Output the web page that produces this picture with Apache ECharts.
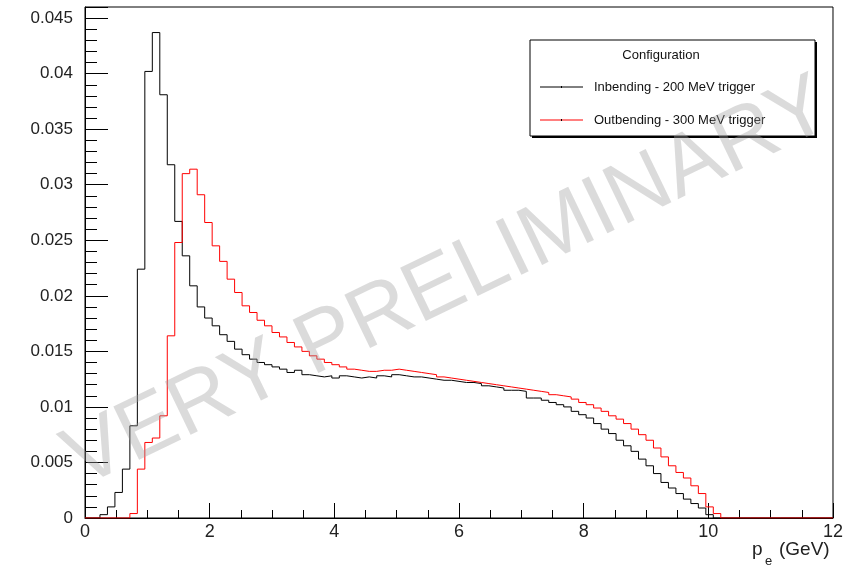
<!DOCTYPE html>
<html>
<head>
<meta charset="utf-8">
<script src="https://cdn.jsdelivr.net/npm/echarts@6/dist/echarts.min.js"></script>
<style>
  html, body { margin: 0; padding: 0; background: #fff; }
  #chart { width: 846px; height: 567px; }
</style>
</head>
<body>
<div id="chart"></div>
<script>
// histogram: 100 bins from 0 to 12 GeV
const binWidth = 0.12;
const xTicks = [0, 2, 4, 6, 8, 10, 12];
const yTicks = [0, 0.005, 0.01, 0.015, 0.02, 0.025, 0.03, 0.035, 0.04, 0.045];

const seriesNames = ["Inbending - 200 MeV trigger", "Outbending - 300 MeV trigger"];

const inbending = [
  0, 0, 0.0003, 0.0010, 0.0023, 0.0044, 0.0083, 0.0224, 0.0402, 0.0437,
  0.0381, 0.0318, 0.0267, 0.0236, 0.0209, 0.0190, 0.0180, 0.0173, 0.0165, 0.0159,
  0.0152, 0.0147, 0.0143, 0.0140, 0.0138, 0.0136, 0.0134, 0.0131, 0.0133, 0.0129,
  0.0128, 0.0127, 0.0128, 0.0126, 0.0128, 0.0127, 0.0126, 0.0127, 0.0126, 0.0128,
  0.0127, 0.0129, 0.0128, 0.0127, 0.0127, 0.0126, 0.0125, 0.0124, 0.0124, 0.0123,
  0.0122, 0.0122, 0.0121, 0.0119, 0.0118, 0.0117, 0.0115, 0.0115, 0.0114, 0.0108,
  0.0108, 0.0106, 0.0104, 0.0102, 0.0100, 0.0096, 0.0093, 0.0090, 0.0085, 0.0080,
  0.0076, 0.0070, 0.0065, 0.0060, 0.0053, 0.0047, 0.0040, 0.0032, 0.0027, 0.0022,
  0.0017, 0.0013, 0.0009, 0.0003, 0, 0, 0, 0, 0, 0,
  0, 0, 0, 0, 0, 0, 0, 0, 0, 0
];

const outbending = [
  0, 0, 0, 0, 0, 0, 0.0004, 0.0044, 0.0068, 0.0072,
  0.0092, 0.0164, 0.0248, 0.0310, 0.0314, 0.0291, 0.0266, 0.0245, 0.0231, 0.0215,
  0.0203, 0.0191, 0.0185, 0.0178, 0.0173, 0.0167, 0.0163, 0.0158, 0.0154, 0.0150,
  0.0146, 0.0143, 0.0140, 0.0138, 0.0136, 0.0134, 0.0133, 0.0132, 0.0132, 0.0133,
  0.0133, 0.0134, 0.0133, 0.0132, 0.0131, 0.0130, 0.0129, 0.0127, 0.0126, 0.0125,
  0.0124, 0.0123, 0.0122, 0.0121, 0.0120, 0.0119, 0.0118, 0.0117, 0.0116, 0.0115,
  0.0114, 0.0113, 0.0111, 0.0110, 0.0109, 0.0107, 0.0104, 0.0102, 0.0099, 0.0096,
  0.0092, 0.0089, 0.0085, 0.0080, 0.0075, 0.0070, 0.0063, 0.0055, 0.0047, 0.0041,
  0.0036, 0.0029, 0.0022, 0.0010, 0.0004, 0, 0, 0, 0, 0,
  0, 0, 0, 0, 0, 0, 0, 0, 0, 0
];

const font = "'Liberation Sans', Arial, Helvetica, sans-serif";

// step points at bin left edges, plus the closing right edge
function toSteps(values) {
  const pts = values.map((v, i) => [i * binWidth, v]);
  pts.push([values.length * binWidth, values[values.length - 1]]);
  return pts;
}

const chart = echarts.init(document.getElementById("chart"), null, { renderer: "canvas" });

const option = {
  animation: false,
  backgroundColor: "#fff",
  grid: {
    left: 85, right: 12, top: 7, bottom: 49,
    show: true, borderColor: "#000", borderWidth: 1, backgroundColor: "transparent"
  },
  xAxis: {
    type: "value",
    min: xTicks[0], max: xTicks[xTicks.length - 1], interval: 2,
    axisLine: { show: true, lineStyle: { color: "#000", width: 1 } },
    axisTick: { show: true, inside: true, length: 15, lineStyle: { color: "#000" } },
    minorTick: { show: true, splitNumber: 4, length: 8, lineStyle: { color: "#000" } },
    splitLine: { show: false },
    axisLabel: { color: "#222", fontSize: 18, fontFamily: font, margin: 5 }
  },
  yAxis: {
    type: "value",
    min: 0, max: 0.046, interval: 0.005,
    axisLine: { show: true, lineStyle: { color: "#000", width: 1 } },
    axisTick: { show: true, inside: true, length: 23, lineStyle: { color: "#000" } },
    minorTick: { show: true, splitNumber: 5, length: 12, lineStyle: { color: "#000" } },
    splitLine: { show: false },
    axisLabel: {
      color: "#222", fontSize: 17, fontFamily: font, margin: 12, showMaxLabel: false,
      formatter: v => yTicks.some(t => Math.abs(t - v) < 1e-9) ? String(+v.toFixed(3)) : ""
    }
  },
  series: [
    {
      name: seriesNames[0], type: "line", step: "end", data: toSteps(inbending),
      showSymbol: false, silent: true, z: 3,
      lineStyle: { color: "#000", width: 1 }
    },
    {
      name: seriesNames[1], type: "line", step: "end", data: toSteps(outbending),
      showSymbol: false, silent: true, z: 4,
      lineStyle: { color: "#ff0000", width: 1 }
    }
  ],
  graphic: [
    // legend box with shadow
    { type: "rect", shape: { x: 532, y: 42, width: 285, height: 96 }, style: { fill: "#000" }, z: 10 },
    { type: "rect", shape: { x: 530, y: 40, width: 285, height: 96 }, style: { fill: "#fff", stroke: "#000", lineWidth: 1 }, z: 11 },
    { type: "text", x: 661, y: 55, z: 12,
      style: { text: "Configuration", font: "13px " + font, fill: "#111", textAlign: "center", textVerticalAlign: "middle" } },
    { type: "line", shape: { x1: 540, y1: 87, x2: 583, y2: 87 }, style: { stroke: "#000", lineWidth: 1 }, z: 12 },
    { type: "line", shape: { x1: 561.5, y1: 86, x2: 561.5, y2: 88 }, style: { stroke: "#000", lineWidth: 1 }, z: 12 },
    { type: "text", x: 594, y: 87, z: 12,
      style: { text: seriesNames[0], font: "13px " + font, fill: "#111", textVerticalAlign: "middle" } },
    { type: "line", shape: { x1: 540, y1: 120, x2: 583, y2: 120 }, style: { stroke: "#ff0000", lineWidth: 1 }, z: 12 },
    { type: "line", shape: { x1: 561.5, y1: 119, x2: 561.5, y2: 121 }, style: { stroke: "#000", lineWidth: 1 }, z: 12 },
    { type: "text", x: 594, y: 120, z: 12,
      style: { text: seriesNames[1], font: "13px " + font, fill: "#111", textVerticalAlign: "middle" } },
    // axis title p_e (GeV)
    { type: "text", x: 752, y: 550, style: { text: "p", font: "19px " + font, fill: "#222", textVerticalAlign: "middle" } },
    { type: "text", x: 765, y: 561, style: { text: "e", font: "13px " + font, fill: "#222", textVerticalAlign: "middle" } },
    { type: "text", x: 779, y: 550, style: { text: "(GeV)", font: "19px " + font, fill: "#222", textVerticalAlign: "middle" } },
    // watermark
    { type: "text", x: 448, y: 284, rotation: 0.45, z: 100, silent: true,
      style: { text: "VERY PRELIMINARY", font: "86px " + font, fill: "rgba(160,160,160,0.38)",
               textAlign: "center", textVerticalAlign: "middle" } }
  ]
};

chart.setOption(option);
</script>
</body>
</html>
